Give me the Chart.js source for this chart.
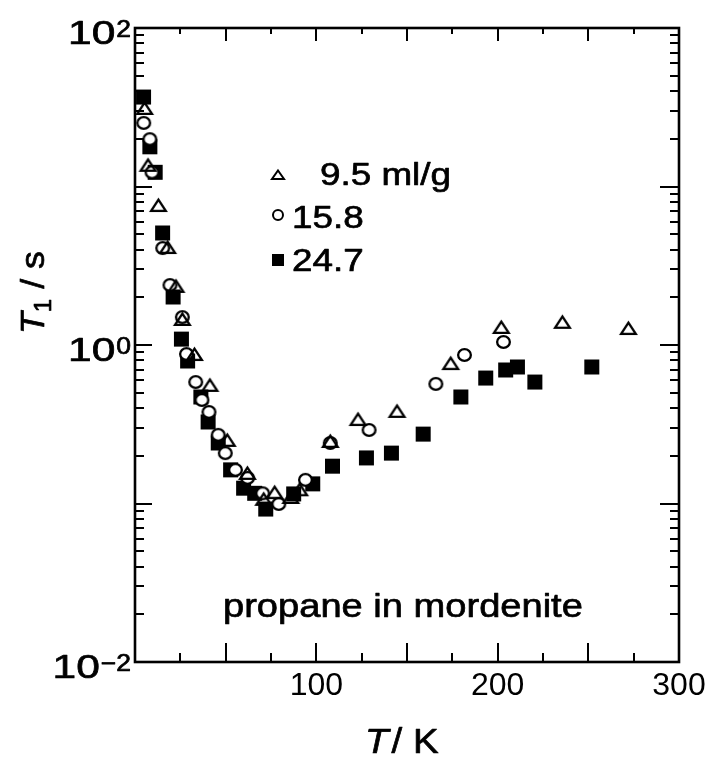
<!DOCTYPE html>
<html>
<head>
<meta charset="utf-8">
<script src="https://cdn.jsdelivr.net/npm/chart.js@4.4.1/dist/chart.umd.min.js"></script>
<style>
  html, body { margin: 0; padding: 0; background: #fff; }
  #c { display: block; }
</style>
</head>
<body>
<canvas id="c" width="712" height="763"></canvas>
<script>
// Proton T1 of propane adsorbed in mordenite, three loadings (ml/g)
const temp95 = [5.3, 7.2, 12.9, 18.0, 22.6, 26.1, 32.8, 41.3, 50.9, 62.0, 71.0, 77.0, 85.9, 90.8, 107.7, 123.0, 144.5, 174.1, 202.0, 235.7, 272.1];
const t1_95  = [31.3, 13.7, 7.64, 4.15, 2.36, 1.46, 0.877, 0.560, 0.252, 0.156, 0.107, 0.118, 0.110, 0.123, 0.248, 0.341, 0.384, 0.769, 1.30, 1.40, 1.28];

const temp158 = [4.8, 8.2, 9.4, 15.3, 19.3, 26.1, 28.4, 33.5, 36.9, 40.8, 45.9, 49.8, 55.4, 62.1, 70.4, 79.3, 94.0, 107.7, 129.1, 165.9, 181.7, 203.2];
const t1_158  = [25.2, 19.9, 12.3, 4.09, 2.39, 1.50, 0.877, 0.584, 0.450, 0.378, 0.271, 0.208, 0.163, 0.145, 0.116, 0.0993, 0.141, 0.241, 0.291, 0.568, 0.865, 1.045];

const temp247 = [4.7, 8.2, 11.1, 15.2, 21.0, 25.6, 29.0, 36.3, 40.3, 45.9, 52.7, 59.9, 66.0, 72.1, 87.5, 98.0, 108.9, 127.6, 141.4, 158.9, 179.7, 193.4, 204.4, 210.9, 220.5, 251.9];
const t1_247  = [36.7, 17.8, 12.3, 5.09, 2.01, 1.09, 0.793, 0.470, 0.327, 0.241, 0.163, 0.125, 0.116, 0.0923, 0.115, 0.133, 0.172, 0.194, 0.208, 0.274, 0.470, 0.619, 0.696, 0.727, 0.584, 0.727];

const seriesLabels = ['9.5 ml/g', '15.8', '24.7'];
const xTickLabels = [100, 200, 300];
const yTickExponents = [2, 0, -2];
const noteText = 'propane in mordenite';

const FONT = '"Liberation Sans", Arial, Helvetica, sans-serif';

// marker bitmaps (slightly wider than tall, like the printed symbols)
function makeMarker(kind, w, h, lw) {
  const c = document.createElement('canvas');
  c.width = w + 4; c.height = h + 4;
  const g = c.getContext('2d');
  const cx = c.width / 2, cy = c.height / 2;
  g.lineWidth = lw; g.strokeStyle = '#000'; g.fillStyle = '#000';
  const hw = lw / 2;
  if (kind === 'circle') {
    g.beginPath();
    g.ellipse(cx, cy, w / 2 - hw, h / 2 - hw, 0, 0, Math.PI * 2);
    g.fillStyle = '#fff'; g.fill(); g.stroke();
  } else if (kind === 'triangle') {
    g.beginPath();
    g.moveTo(cx, 2 + hw + 0.5);
    g.lineTo(cx + w / 2 - hw, 2 + h - hw);
    g.lineTo(cx - w / 2 + hw, 2 + h - hw);
    g.closePath();
    g.lineJoin = 'miter';
    g.stroke();
  } else {
    g.fillRect(2, 2, w, h);
  }
  return c;
}

const triImg = makeMarker('triangle', 17, 14, 2.3);
const cirImg = makeMarker('circle', 15, 14, 2.3);
const sqImg  = makeMarker('square', 15, 15, 0);
const triLeg = makeMarker('triangle', 14, 11, 2);
const cirLeg = makeMarker('circle', 12, 12, 2);
const sqLeg  = makeMarker('square', 12, 12, 0);

function pts(xs, ys) { return xs.map((x, i) => ({ x: x, y: ys[i] })); }

function txt(ctx, s, x, y, size, opt) {
  opt = opt || {};
  ctx.save();
  ctx.font = (opt.italic ? 'italic ' : '') + size + 'px ' + FONT;
  ctx.textBaseline = 'alphabetic';
  ctx.fillStyle = '#000';
  ctx.strokeStyle = '#000';
  ctx.lineWidth = 0.7;
  ctx.lineJoin = 'round';
  const sx = opt.sx || 1;
  const w = ctx.measureText(s).width * sx;
  let x0 = x;
  if (opt.align === 'right') x0 = x - w;
  else if (opt.align === 'center') x0 = x - w / 2;
  ctx.translate(x0, y);
  ctx.scale(sx, 1);
  ctx.fillText(s, 0, 0);
  ctx.strokeText(s, 0, 0);
  ctx.restore();
  return w;
}
function txtWidth(ctx, s, size, opt) {
  opt = opt || {};
  ctx.save();
  ctx.font = (opt.italic ? 'italic ' : '') + size + 'px ' + FONT;
  const w = ctx.measureText(s).width * (opt.sx || 1);
  ctx.restore();
  return w;
}

const decor = {
  id: 'decor',
  afterDraw(chart) {
    const ctx = chart.ctx;
    const a = chart.chartArea;
    const xs = chart.scales.x, ys = chart.scales.y;
    ctx.save();
    ctx.strokeStyle = '#000';
    ctx.lineCap = 'butt';

    // tick marks, pointing inward on all four sides
    ctx.lineWidth = 2;
    ctx.beginPath();
    for (let v = 25; v < 300; v += 25) {
      const px = Math.round(xs.getPixelForValue(v));
      const major = v % 50 === 0;
      ctx.moveTo(px, a.bottom); ctx.lineTo(px, a.bottom - (major ? 19 : 9));
      ctx.moveTo(px, a.top);    ctx.lineTo(px, a.top + (major ? 13 : 6));
    }
    for (let d = -2; d <= 1; d++) {
      for (let k = 1; k <= 9; k++) {
        const v = k * Math.pow(10, d);
        if (d === -2 && k === 1) continue;
        const py = Math.round(ys.getPixelForValue(v));
        const major = k === 1;
        ctx.moveTo(a.left, py);  ctx.lineTo(a.left + (major ? 17 : 9), py);
        ctx.moveTo(a.right, py); ctx.lineTo(a.right - (major ? 19 : 9), py);
      }
    }
    ctx.stroke();

    // frame
    ctx.lineWidth = 2.6;
    ctx.strokeRect(a.left, a.top, a.right - a.left, a.bottom - a.top);

    // y tick labels: 10 with superscript exponent
    yTickExponents.forEach(e => {
      const py = ys.getPixelForValue(Math.pow(10, e));
      const sup = e < 0 ? '\u2212' + (-e) : String(e);
      const wSup = txtWidth(ctx, sup, 23, { sx: 1.15 });
      const right = a.left - 4;
      txt(ctx, sup, right, py + 9, 23, { align: 'right', sx: 1.15 });
      txt(ctx, '10', right - wSup - 1, py + 16, 34, { align: 'right', sx: 1.25 });
    });

    // axis titles
    let xp = 365;
    xp += txt(ctx, 'T', xp, 753, 35, { italic: true, sx: 1.1 });
    txt(ctx, '/ K', xp + 3, 753, 35, { sx: 1.1 });

    ctx.save();
    ctx.translate(44, 334);
    ctx.rotate(-Math.PI / 2);
    let yp = 0;
    yp += txt(ctx, 'T', yp, 0, 34, { italic: true, sx: 1.05 });
    yp += txt(ctx, '1', yp, 7, 23, { sx: 1.05 });
    txt(ctx, ' / s', yp, 0, 34, { sx: 1.05 });
    ctx.restore();

    // legend inside the plot
    const legImgs = [triLeg, cirLeg, sqLeg];
    const legMarkY = [174, 215, 260];
    const legTextX = [320, 292, 292];
    const legBase = [185, 228, 271];
    legImgs.forEach((img, i) => {
      ctx.drawImage(img, Math.round(278 - img.width / 2), Math.round(legMarkY[i] - img.height / 2));
      txt(ctx, seriesLabels[i], legTextX[i], legBase[i], 32, { sx: 1.15 });
    });

    // sample note
    txt(ctx, noteText, 223, 617, 34, { sx: 1.12 });

    ctx.restore();
  }
};

new Chart(document.getElementById('c'), {
  type: 'scatter',
  data: {
    datasets: [
      { label: seriesLabels[0], data: pts(temp95, t1_95), pointStyle: triImg, pointRadius: 8, pointHoverRadius: 8 },
      { label: seriesLabels[1], data: pts(temp158, t1_158), pointStyle: cirImg, pointRadius: 8, pointHoverRadius: 8 },
      { label: seriesLabels[2], data: pts(temp247, t1_247), pointStyle: sqImg, pointRadius: 8, pointHoverRadius: 8 }
    ]
  },
  options: {
    responsive: false,
    animation: false,
    devicePixelRatio: 1,
    clip: false,
    layout: { padding: { top: 28, right: 33, left: 0, bottom: 0 } },
    plugins: { legend: { display: false }, tooltip: { enabled: false } },
    scales: {
      x: {
        type: 'linear', min: 0, max: 300,
        grid: { display: false, drawTicks: false },
        border: { display: false },
        ticks: {
          stepSize: 25, autoSkip: false, maxRotation: 0, minRotation: 0, padding: 5,
          color: '#000', font: { family: FONT, size: 32 },
          callback: v => (xTickLabels.includes(v) ? String(v) : '')
        },
        afterFit: s => { s.height = 101; }
      },
      y: {
        type: 'logarithmic', min: 0.01, max: 100,
        grid: { display: false, drawTicks: false },
        border: { display: false },
        ticks: { display: false },
        afterFit: s => { s.width = 135; }
      }
    }
  },
  plugins: [decor]
});
</script>
</body>
</html>
